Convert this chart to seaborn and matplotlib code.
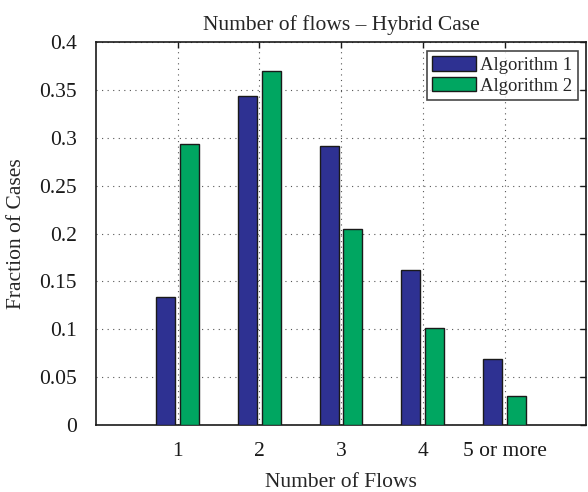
import matplotlib
matplotlib.use("Agg")
import matplotlib.pyplot as plt
import seaborn as sns
import pandas as pd

categories = ["1", "2", "3", "4", "5 or more"]
algorithm_1 = [0.134, 0.344, 0.291, 0.162, 0.069]
algorithm_2 = [0.294, 0.370, 0.205, 0.101, 0.030]
series_names = ["Algorithm 1", "Algorithm 2"]
y_ticks = [0, 0.05, 0.1, 0.15, 0.2, 0.25, 0.3, 0.35, 0.4]
y_tick_labels = ["0", "0.05", "0.1", "0.15", "0.2", "0.25", "0.3", "0.35", "0.4"]

df = pd.DataFrame({
    "Number of Flows": categories * 2,
    "Fraction": algorithm_1 + algorithm_2,
    "Algorithm": [series_names[0]] * len(categories) + [series_names[1]] * len(categories),
})

sns.set_style("white")
plt.rcParams["font.family"] = ["Liberation Serif", "DejaVu Serif"]

fig = plt.figure(figsize=(5.88, 4.92), dpi=100)
ax = fig.add_axes([0.163, 0.136, 0.834, 0.7785])

sns.barplot(data=df, x="Number of Flows", y="Fraction", hue="Algorithm",
            order=categories, hue_order=series_names,
            palette=["#2e3192", "#00a661"], width=0.58, gap=0.2,
            edgecolor="#1a1a1a", linewidth=1.0, saturation=1, ax=ax, zorder=3)

ax.set_xlim(-1, 5)
ax.set_ylim(0, 0.4)
ax.set_yticks(y_ticks)
ax.set_yticklabels(y_tick_labels)
ax.set_xticks(range(len(categories)))
ax.set_xticklabels(categories)

ax.grid(True, linestyle=(0, (1, 4)), color="#555555", linewidth=0.8, zorder=0)
ax.set_axisbelow(True)
for s in ax.spines.values():
    s.set_visible(True)
    s.set_color("#1a1a1a")
    s.set_linewidth(1.2)

ax.tick_params(direction="in", length=4, width=1, top=True, right=True,
               labelsize=15.5, colors="#1a1a1a")
ax.tick_params(axis="y", pad=13.5)
ax.tick_params(axis="x", pad=12.5)
ax.set_xlabel("Number of Flows", fontsize=15.5, labelpad=8)
ax.set_ylabel("Fraction of Cases", fontsize=15.5, labelpad=9.5)
ax.set_title("Number of flows \u2013 Hybrid Case", fontsize=15.5, pad=8.5)

leg = ax.legend(loc="upper right", fontsize=13.5, frameon=True, fancybox=False,
                edgecolor="#1a1a1a", handlelength=2.35, handleheight=0.85,
                handletextpad=0.21, borderpad=0.28, labelspacing=0.15,
                borderaxespad=0.45)
leg.get_frame().set_linewidth(1.2)

fig.savefig("out.png", dpi=100)
